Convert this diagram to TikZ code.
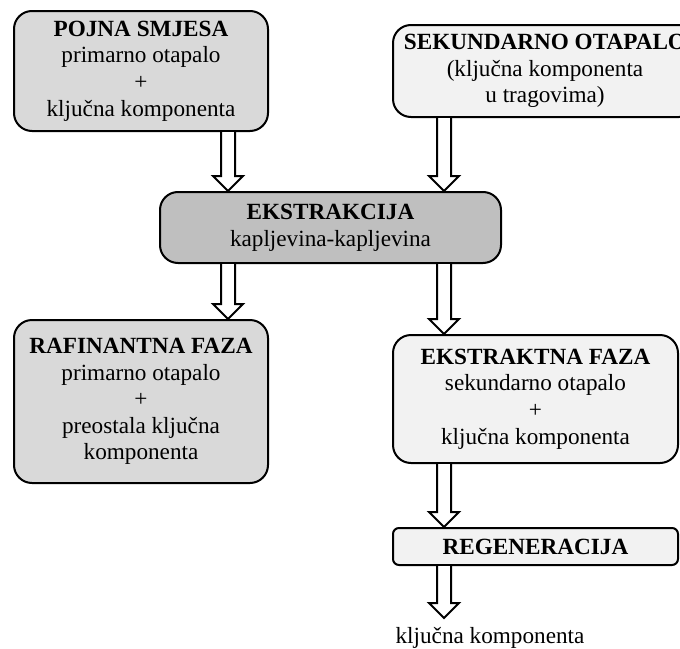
\documentclass[tikz,border=0pt]{standalone}
\usepackage{fontspec}
\setmainfont{Liberation Serif}
\usetikzlibrary{calc}

\tikzset{
	box/.style={draw, line width=1pt, rounded corners=9pt, align=center, inner sep=2pt},
	hollow/.style={draw, line width=1pt, fill=white, to path={
		let \p1=(\tikztostart), \p2=(\tikztotarget) in
		(\x1-3.5pt,\y1) -- (\x1-3.5pt,\y2+7.5pt) -- (\x1-7.5pt,\y2+7.5pt) -- (\x2,\y2)
		-- (\x1+7.5pt,\y2+7.5pt) -- (\x1+3.5pt,\y2+7.5pt) -- (\x1+3.5pt,\y1)}}
}
\definecolor{greyA}{HTML}{D9D9D9}
\definecolor{greyB}{HTML}{BFBFBF}
\definecolor{greyC}{HTML}{F2F2F2}

\begin{document}
\begin{tikzpicture}[x=0.5pt, y=-0.5pt, font=\fontsize{11.6}{13.3}\selectfont]
	\useasboundingbox (0,0) rectangle (680,648);
	\coordinate (colL) at (228,0);
	\coordinate (colR) at (444,0);
	\node[box, fill=greyA, minimum width=127pt, minimum height=60pt] (pojna) at (141,71)
		{\textbf{POJNA SMJESA}\\primarno otapalo\\+\\ključna komponenta};
	\node[box, fill=greyC, minimum width=152pt, minimum height=46pt] (sek) at (545,71)
		{\textbf{SEKUNDARNO OTAPALO}\\(ključna komponenta\\u tragovima)};
	\node[box, fill=greyB, minimum width=170.5pt, minimum height=35.5pt] (ekstr) at (330.5,227.5)
		{\textbf{EKSTRAKCIJA}\\kapljevina-kapljevina};
	\node[box, fill=greyA, minimum width=127pt, minimum height=81.5pt] (raf) at (141,401.5)
		{\textbf{RAFINANTNA FAZA}\\primarno otapalo\\+\\preostala ključna\\komponenta};
	\node[box, fill=greyC, minimum width=142.5pt, minimum height=64pt] (ekfaza) at (535.5,399)
		{\textbf{EKSTRAKTNA FAZA}\\sekundarno otapalo\\+\\ključna komponenta};
	\node[box, fill=greyC, minimum width=142.5pt, minimum height=18.5pt, rounded corners=3pt] (reg) at (535.5,546.5)
		{\textbf{REGENERACIJA}};
	\node[anchor=north, inner sep=4.5pt] (kk) at (490,618) {ključna komponenta};
	% strelice
	\draw[hollow] (pojna.south -| colL) to (ekstr.north -| colL);
	\draw[hollow] (sek.south -| colR) to (ekstr.north -| colR);
	\draw[hollow] (ekstr.south -| colL) to (raf.north -| colL);
	\draw[hollow] (ekstr.south -| colR) to (ekfaza.north -| colR);
	\draw[hollow] (ekfaza.south -| colR) to (reg.north -| colR);
	\draw[hollow] (reg.south -| colR) to (kk.north -| colR);
\end{tikzpicture}
\end{document}
